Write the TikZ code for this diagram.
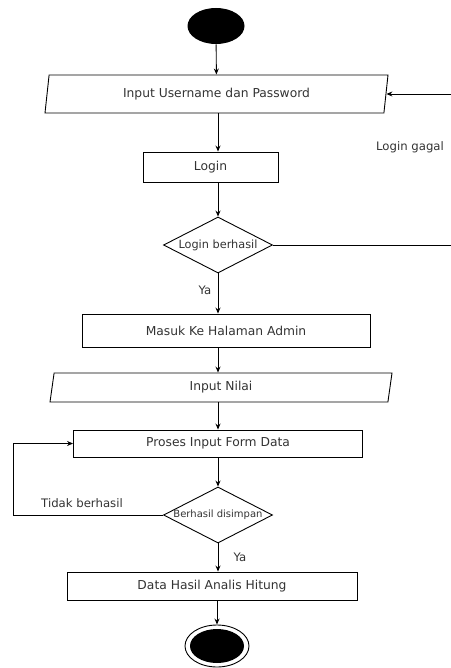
\documentclass[tikz,border=0pt]{standalone}
\usepackage{fontspec}
\setmainfont{DejaVu Sans}
\usetikzlibrary{shapes.geometric,arrows.meta}
\begin{document}
\begin{tikzpicture}[x=1pt,y=-1pt,
  line width=0.9pt,
  every node/.style={font=\fontsize{12.3}{14}\selectfont, text=black!80},
  box/.style={draw, rectangle, inner sep=0},
  para/.style={draw, trapezium, trapezium left angle=71, trapezium right angle=109,
    trapezium stretches body, inner sep=0},
  dec/.style={draw, diamond, inner sep=0},
  arr/.style={-{Stealth[length=6pt,width=5pt]}},
  lbl/.style={inner sep=1pt, font=\fontsize{11.7}{14}\selectfont}
]
\useasboundingbox (0,0) rectangle (450,668);
\node[ellipse, fill=black, minimum width=57, minimum height=36, inner sep=0] (start) at (216,26) {};
\node[para, minimum width=343, minimum height=38] (inp1) at (216.5,94) {Input Username dan Password};
\node[box, minimum width=135, minimum height=30] (login) at (210.5,167) {Login};
\node[dec, minimum width=109, minimum height=56, label={[font=\fontsize{11.3}{13}\selectfont, text=black!80]center:Login berhasil}] (d1) at (218,245) {};
\node[box, minimum width=288, minimum height=33] (masuk) at (226,330.5) {Masuk Ke Halaman Admin};
\node[para, minimum width=342, minimum height=29] (inp2) at (221,387.5) {Input Nilai};
\node[box, minimum width=289, minimum height=27] (proses) at (218,443.5) {Proses Input Form Data};
\node[dec, minimum width=109, minimum height=56, label={[font=\fontsize{10}{12}\selectfont, text=black!80]center:Berhasil disimpan}] (d2) at (218,515) {};
\node[box, minimum width=290, minimum height=28] (data) at (212,586) {Data Hasil Analis Hitung};
\node[ellipse, draw, minimum width=64, minimum height=42, inner sep=0] (endo) at (217,646) {};
\node[ellipse, fill=black, minimum width=54, minimum height=34, inner sep=0] (endi) at (endo.center) {};

\coordinate (loopR) at (462,245);
\coordinate (loopL) at (13,515);

\draw[arr] (start) -- (inp1);
\draw[arr] (inp1.south -| d1.north) -- (login.north -| d1.north);
\draw[arr] (login.south -| d1.north) -- (d1.north);
\draw[arr] (d1.south) -- (masuk.north -| d1.south);
\draw[arr] (d1.east) -- (loopR) |- (inp1.east);
\draw[arr] (masuk.south -| d1.south) -- (inp2.north -| d1.south);
\draw[arr] (inp2.south -| d2.north) -- (proses.north -| d2.north);
\draw[arr] (proses.south -| d2.north) -- (d2.north);
\draw[arr] (d2.south) -- (data.north -| d2.south);
\draw[arr] (d2.west) -- (loopL) |- (proses.west);
\draw[arr] (data.south -| endo.north) -- (endo.north);

\node[lbl] (lg) at (410,147) {Login gagal};
\node[lbl] (ya1) at (205,290) {Ya};
\node[lbl] (tb) at (82,503) {Tidak berhasil};
\node[lbl] (ya2) at (240,557) {Ya};
\end{tikzpicture}
\end{document}
